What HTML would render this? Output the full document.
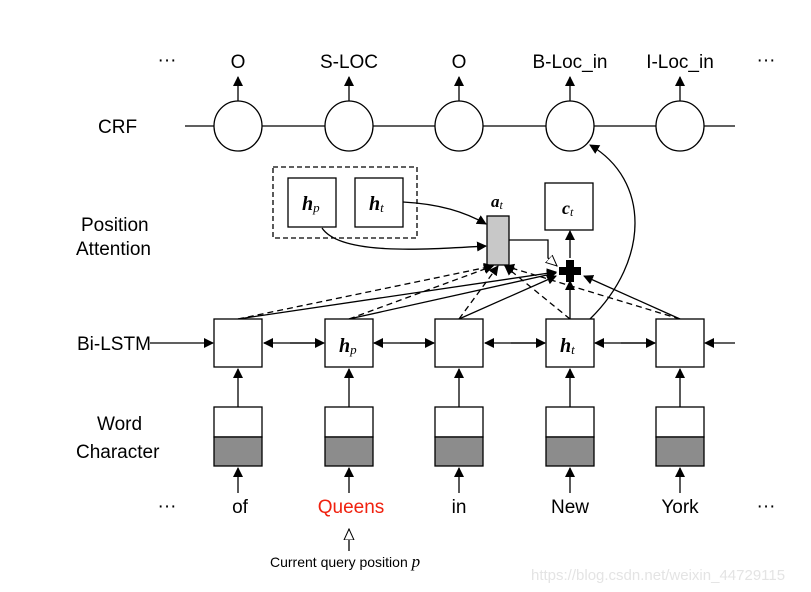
<!DOCTYPE html>
<html><head><style>body{margin:0;background:#fff}svg{display:block}</style></head><body>
<svg width="811" height="592" viewBox="0 0 811 592" xmlns="http://www.w3.org/2000/svg" font-family="Liberation Sans, Arial, sans-serif">
<defs>
<marker id="a" markerWidth="10" markerHeight="10" refX="9" refY="5" orient="auto" markerUnits="userSpaceOnUse"><path d="M0,0L10,5L0,10z" fill="#000"/></marker>
<marker id="o" markerWidth="12" markerHeight="12" refX="11" refY="6" orient="auto" markerUnits="userSpaceOnUse"><path d="M0,1L11,6L0,11z" fill="#fff" stroke="#000"/></marker>
</defs>
<g font-size="19" fill="#000">
<text x="98" y="133">CRF</text>
<text x="81" y="231">Position</text>
<text x="76" y="255">Attention</text>
<text x="77" y="350">Bi-LSTM</text>
<text x="97" y="430">Word</text>
<text x="76" y="458">Character</text>
</g>
<g font-size="19" text-anchor="middle">
<text x="167" y="66">···</text><text x="238" y="68">O</text><text x="349" y="68">S-LOC</text><text x="459" y="68">O</text><text x="570" y="68">B-Loc_in</text><text x="680" y="68">I-Loc_in</text><text x="766" y="66">···</text>
<text x="167" y="512">···</text><text x="240" y="513">of</text><text x="351" y="513" fill="#f0210f">Queens</text><text x="459" y="513">in</text><text x="570" y="513">New</text><text x="680" y="513">York</text><text x="766" y="512">···</text>
</g>
<text x="270" y="567" font-size="14">Current query position <tspan font-family="Liberation Serif" font-style="italic" font-size="17">p</tspan></text>
<text x="531" y="580" font-size="15" fill="#e4e4e4">https://blog.csdn.net/weixin_44729115</text>
<g stroke="#000" stroke-width="1.3" fill="none">
<line x1="185" y1="126" x2="735" y2="126"/>
<g fill="#fff"><ellipse cx="238" cy="126" rx="24" ry="25"/><ellipse cx="349" cy="126" rx="24" ry="25"/><ellipse cx="459" cy="126" rx="24" ry="25"/><ellipse cx="570" cy="126" rx="24" ry="25"/><ellipse cx="680" cy="126" rx="24" ry="25"/></g>
<line x1="238" y1="101" x2="238" y2="77" marker-end="url(#a)"/><line x1="349" y1="101" x2="349" y2="77" marker-end="url(#a)"/><line x1="459" y1="101" x2="459" y2="77" marker-end="url(#a)"/><line x1="570" y1="101" x2="570" y2="77" marker-end="url(#a)"/><line x1="680" y1="101" x2="680" y2="77" marker-end="url(#a)"/>
<rect x="273" y="167" width="144" height="71" stroke-dasharray="5,3"/>
<rect x="288" y="178" width="48" height="49"/><rect x="355" y="178" width="48" height="49"/>
<rect x="487" y="216" width="22" height="49" fill="#c8c8c8"/>
<rect x="545" y="183" width="48" height="47"/>
<path d="M403,202 C440,204 465,212 486,224" marker-end="url(#a)"/>
<path d="M322,228 C340,255 420,250 486,246" marker-end="url(#a)"/>
<polyline points="509,240 548,240 548,258 557,266" marker-end="url(#o)"/>
<line x1="570" y1="258" x2="570" y2="231" marker-end="url(#a)"/>
<path d="M590,319 C650,260 650,180 590,145" marker-end="url(#a)"/>
<g stroke-dasharray="6,4">
<line x1="238" y1="319" x2="493" y2="266" marker-end="url(#a)"/>
<line x1="349" y1="319" x2="493" y2="266" marker-end="url(#a)"/>
<line x1="459" y1="319" x2="498" y2="266" marker-end="url(#a)"/>
<line x1="570" y1="319" x2="505" y2="266" marker-end="url(#a)"/>
<line x1="680" y1="319" x2="505" y2="266" marker-end="url(#a)"/>
</g>
<line x1="238" y1="319" x2="556" y2="272" marker-end="url(#a)"/>
<line x1="349" y1="319" x2="556" y2="273" marker-end="url(#a)"/>
<line x1="459" y1="319" x2="556" y2="276" marker-end="url(#a)"/>
<line x1="570" y1="319" x2="570" y2="281" marker-end="url(#a)"/>
<line x1="680" y1="319" x2="584" y2="276" marker-end="url(#a)"/>
<line x1="150" y1="343" x2="213" y2="343" marker-end="url(#a)"/>
<line x1="735" y1="343" x2="705" y2="343" marker-end="url(#a)"/>
</g>
<path d="M566,260h8v7h7v8h-7v7h-8v-7h-7v-8h7z" fill="#000"/>
<g stroke="#000" stroke-width="1.3" fill="#fff">
<g id="col">
<rect x="214" y="319" width="48" height="48"/>
<rect x="214" y="407" width="48" height="30"/>
<rect x="214" y="437" width="48" height="29" fill="#8c8c8c"/>
<line x1="238" y1="407" x2="238" y2="369" marker-end="url(#a)"/>
<line x1="238" y1="493" x2="238" y2="468" marker-end="url(#a)"/>
</g>
<use href="#col" x="111"/><use href="#col" x="221"/><use href="#col" x="332"/><use href="#col" x="442"/>
</g>
<g stroke="#000" stroke-width="1.3">
<line x1="273" y1="343" x2="264" y2="343" marker-end="url(#a)"/><line x1="290" y1="343" x2="324" y2="343" marker-end="url(#a)"/>
<line x1="383" y1="343" x2="374" y2="343" marker-end="url(#a)"/><line x1="400" y1="343" x2="434" y2="343" marker-end="url(#a)"/>
<line x1="494" y1="343" x2="485" y2="343" marker-end="url(#a)"/><line x1="511" y1="343" x2="545" y2="343" marker-end="url(#a)"/>
<line x1="604" y1="343" x2="595" y2="343" marker-end="url(#a)"/><line x1="621" y1="343" x2="655" y2="343" marker-end="url(#a)"/>
<line x1="264" y1="343" x2="323" y2="343"/><line x1="374" y1="343" x2="434" y2="343"/><line x1="485" y1="343" x2="545" y2="343"/><line x1="595" y1="343" x2="655" y2="343"/>
<line x1="349" y1="551" x2="349" y2="529" fill="#fff" marker-end="url(#o)"/>
</g>
<g font-family="Liberation Serif, serif" font-style="italic" font-weight="bold" font-size="20">
<text x="302" y="210">h<tspan font-size="13" font-weight="normal" dy="2">p</tspan></text>
<text x="369" y="210">h<tspan font-size="13" font-weight="normal" dy="2">t</tspan></text>
<text x="339" y="352">h<tspan font-size="13" font-weight="normal" dy="2">p</tspan></text>
<text x="560" y="352">h<tspan font-size="13" font-weight="normal" dy="2">t</tspan></text>
<text x="491" y="207" font-size="17">a<tspan font-size="12" font-weight="normal" dy="2">t</tspan></text>
<text x="562" y="214" font-size="18">c<tspan font-size="12" font-weight="normal" dy="2">t</tspan></text>
</g>
</svg>
</body></html>
